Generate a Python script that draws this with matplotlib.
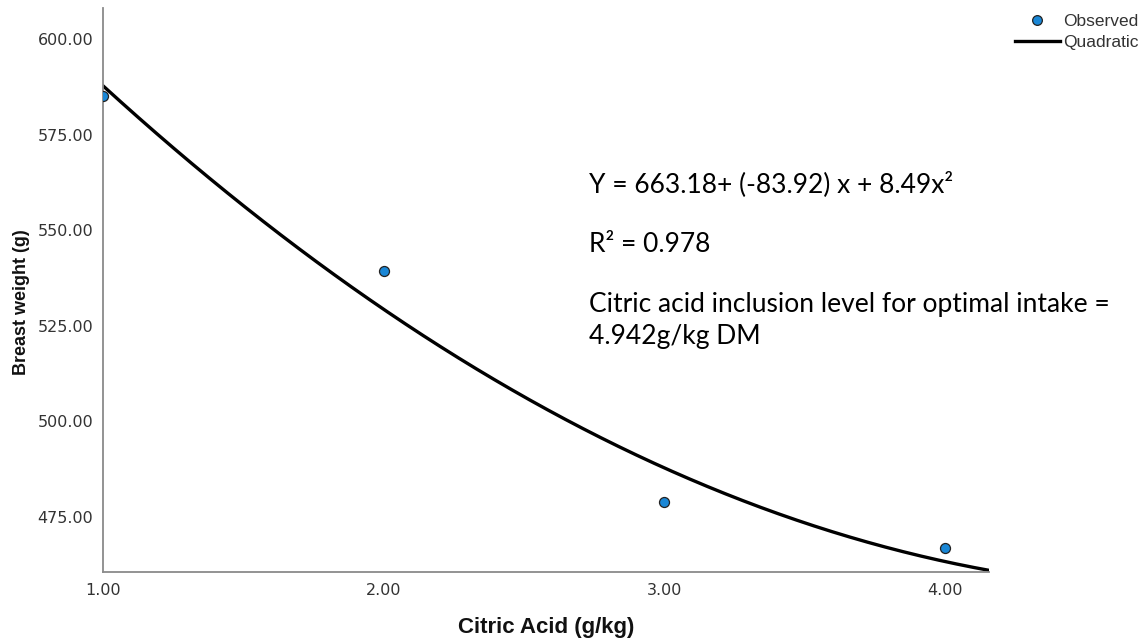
import numpy as np
import matplotlib
matplotlib.use("Agg")
import matplotlib.pyplot as plt
from matplotlib.lines import Line2D

# observed means per citric acid level
nivel = [1.0, 2.0, 3.0, 4.0]
peso = [585.1, 539.3, 478.9, 467.0]

# quadratic fit coefficients
b0, b1, b2 = 663.18, -83.92, 8.49

xticks = [1.0, 2.0, 3.0, 4.0]
yticks = [475.0, 500.0, 525.0, 550.0, 575.0, 600.0]

fig = plt.figure(figsize=(11.46, 6.44), dpi=100)
ax = fig.add_axes([0.0899, 0.1118, 0.7731, 0.8758])

xs = np.linspace(1.0, 4.157, 300)
ax.plot(xs, b0 + b1 * xs + b2 * xs ** 2, color="black", lw=2.4, zorder=2)
ax.plot(nivel, peso, "o", ms=7.2, mfc="#1a87d6", mec="#222222", mew=0.9, zorder=3)

ax.set_xlim(1.0, 4.157)
ax.set_ylim(460.6, 608.1)
ax.set_xticks(xticks)
ax.set_yticks(yticks)
ax.set_xticklabels(["%.2f" % t for t in xticks])
ax.set_yticklabels(["%.2f" % t for t in yticks])
ax.tick_params(axis="both", length=0, labelsize=11.5, labelcolor="#333333")
ax.tick_params(axis="x", pad=8)
ax.tick_params(axis="y", pad=7)
for lado in ["top", "right"]:
    ax.spines[lado].set_visible(False)
for lado in ["left", "bottom"]:
    ax.spines[lado].set_color("#8a8a8a")
    ax.spines[lado].set_linewidth(1.3)

fig.text(0.4765, 1 - 627 / 644, "Citric Acid (g/kg)", ha="center", va="center",
         fontsize=16, fontweight="bold", family="Liberation Sans", color="#111111")
fig.text(22 / 1146, 1 - 302 / 644, "Breast weight (g)", ha="center", va="center",
         rotation=90, fontsize=13, fontweight="bold",
         family=["Liberation Sans Narrow", "Liberation Sans"], color="#111111")

# leyenda arriba a la derecha
handles = [
    Line2D([], [], ls="none", marker="o", ms=7, mfc="#1a87d6", mec="#222222", mew=0.9),
    Line2D([], [], color="black", lw=2.4),
]
fig.legend(handles, ["Observed", "Quadratic"], loc="upper right",
           bbox_to_anchor=(1.006, 1.0), frameon=False, handlelength=2.6,
           handletextpad=0.2, labelspacing=0.35, borderpad=0.3,
           prop={"family": "Liberation Sans", "size": 12.5}, labelcolor="#333333")

# ecuacion y notas del ajuste
fuente = dict(family=["Lato", "DejaVu Sans"], fontsize=19, color="black",
              ha="left", va="baseline")
x0 = 589 / 1146
fig.text(x0, 1 - 192 / 644, "Y = 663.18+ (-83.92) x + 8.49x²", **fuente)
fig.text(x0, 1 - 252 / 644, "R² = 0.978", **fuente)
fig.text(x0, 1 - 312 / 644, "Citric acid inclusion level for optimal intake =", **fuente)
fig.text(x0, 1 - 344 / 644, "4.942g/kg DM", **fuente)

fig.savefig("out.png", dpi=100)
